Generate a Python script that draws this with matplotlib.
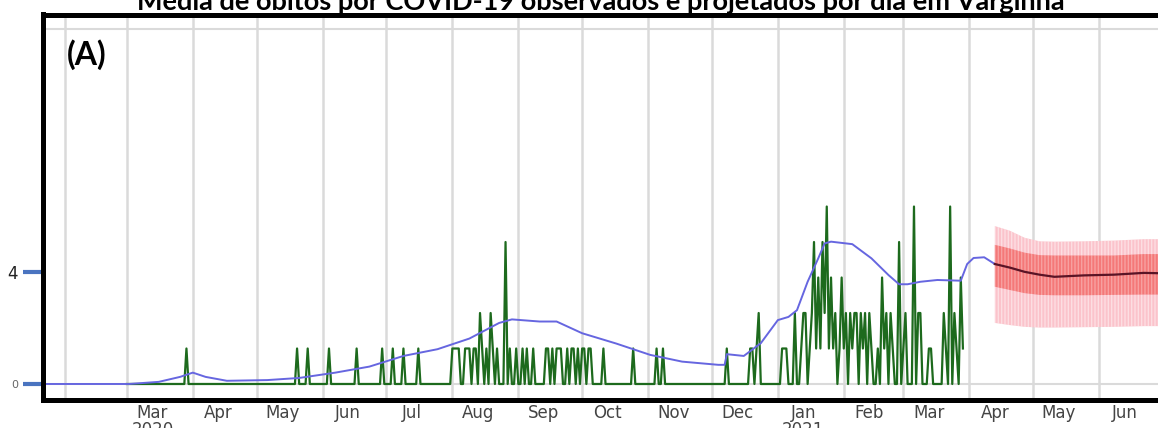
"""Observed and projected daily COVID-19 deaths in Varginha (panel A)."""
import matplotlib
matplotlib.use('Agg')
import matplotlib.pyplot as plt
import matplotlib.dates as mdates
import numpy as np
import pandas as pd

# === OBSERVED DAILY DEATHS (non-zero days only, rest are 0) ===
obs_start, obs_end = '2020-03-01', '2021-03-29'
death_dates = [
    '2020-03-29', '2020-05-20', '2020-05-25', '2020-06-04', '2020-06-17', '2020-06-29',
    '2020-07-04', '2020-07-09', '2020-07-16',
    '2020-08-01', '2020-08-02', '2020-08-03', '2020-08-04', '2020-08-07', '2020-08-08',
    '2020-08-09', '2020-08-11', '2020-08-12', '2020-08-14', '2020-08-15', '2020-08-17',
    '2020-08-19', '2020-08-20', '2020-08-22', '2020-08-26', '2020-08-28', '2020-08-31',
    '2020-09-03', '2020-09-05', '2020-09-08', '2020-09-14', '2020-09-15', '2020-09-17',
    '2020-09-19', '2020-09-20', '2020-09-21', '2020-09-24', '2020-09-26', '2020-09-27',
    '2020-09-29', '2020-10-01', '2020-10-02', '2020-10-04', '2020-10-05', '2020-10-11',
    '2020-10-25', '2020-11-05', '2020-11-08',
    '2020-12-08', '2020-12-19', '2020-12-20', '2020-12-22', '2020-12-23',
    '2021-01-03', '2021-01-04', '2021-01-05', '2021-01-09', '2021-01-12', '2021-01-13',
    '2021-01-14', '2021-01-16', '2021-01-17', '2021-01-18', '2021-01-19', '2021-01-20',
    '2021-01-21', '2021-01-22', '2021-01-23', '2021-01-24', '2021-01-25', '2021-01-26',
    '2021-01-27', '2021-01-28', '2021-01-30', '2021-01-31',
    '2021-02-01', '2021-02-02', '2021-02-04', '2021-02-05', '2021-02-06', '2021-02-07',
    '2021-02-09', '2021-02-10', '2021-02-11', '2021-02-13', '2021-02-14', '2021-02-17',
    '2021-02-19', '2021-02-20', '2021-02-21', '2021-02-23', '2021-02-24', '2021-02-27',
    '2021-03-01', '2021-03-02', '2021-03-06', '2021-03-08', '2021-03-09', '2021-03-13',
    '2021-03-14', '2021-03-20', '2021-03-21', '2021-03-23', '2021-03-25', '2021-03-26',
    '2021-03-28', '2021-03-29',
]
death_counts = [
    1, 1, 1, 1, 1, 1,
    1, 1, 1,
    1, 1, 1, 1, 1, 1,
    1, 1, 1, 2, 1, 1,
    2, 1, 1, 4, 1, 1,
    1, 1, 1, 1, 1, 1,
    1, 1, 1, 1, 1, 1,
    1, 1, 1, 1, 1, 1,
    1, 1, 1,
    1, 1, 1, 1, 2,
    1, 1, 1, 2, 1, 2,
    2, 1, 2, 4, 1, 3,
    1, 4, 2, 5, 1, 3,
    1, 2, 1, 3,
    1, 2, 2, 1, 2, 2,
    2, 1, 2, 2, 1, 1,
    3, 1, 2, 2, 1, 4,
    1, 2, 5, 2, 2, 1,
    1, 2, 1, 5, 2, 1,
    3, 1,
]

# === SMOOTHED AVERAGE (blue) ===
avg_dates = [
    '2020-01-22', '2020-03-02', '2020-03-16', '2020-03-26', '2020-04-01', '2020-04-07',
    '2020-04-17', '2020-05-06', '2020-05-21', '2020-06-07', '2020-06-23', '2020-07-09',
    '2020-07-25', '2020-08-09', '2020-08-23', '2020-08-29', '2020-09-11', '2020-09-19',
    '2020-10-01', '2020-10-17', '2020-11-02', '2020-11-17', '2020-12-04', '2020-12-07',
    '2020-12-08', '2020-12-16', '2020-12-24', '2021-01-01', '2021-01-06', '2021-01-10',
    '2021-01-15', '2021-01-20', '2021-01-23', '2021-01-26', '2021-02-05', '2021-02-14',
    '2021-02-22', '2021-02-27', '2021-03-03', '2021-03-09', '2021-03-17', '2021-03-28',
    '2021-03-31', '2021-04-03', '2021-04-08', '2021-04-13',
]
avg_vals = [
    0.00, 0.00, 0.06, 0.20, 0.32, 0.20,
    0.09, 0.11, 0.17, 0.32, 0.49, 0.79,
    0.98, 1.28, 1.72, 1.82, 1.76, 1.76,
    1.43, 1.14, 0.82, 0.63, 0.54, 0.54,
    0.84, 0.79, 1.15, 1.80, 1.89, 2.08,
    2.88, 3.54, 3.96, 4.01, 3.94, 3.54,
    3.07, 2.81, 2.81, 2.88, 2.93, 2.91,
    3.38, 3.55, 3.57, 3.38,
]

# === PROJECTION ===
proj_dates = ['2021-04-13', '2021-04-20', '2021-04-27', '2021-05-04', '2021-05-11',
              '2021-05-25', '2021-06-08', '2021-06-22', '2021-06-30']
proj_mean = [3.38, 3.28, 3.16, 3.08, 3.02, 3.06, 3.08, 3.13, 3.12]
proj_hi80 = [3.92, 3.82, 3.70, 3.63, 3.62, 3.62, 3.62, 3.66, 3.66]
proj_lo80 = [2.74, 2.65, 2.56, 2.51, 2.50, 2.50, 2.51, 2.52, 2.52]
proj_hi95 = [4.45, 4.32, 4.12, 4.02, 4.01, 4.02, 4.04, 4.08, 4.08]
proj_lo95 = [1.72, 1.66, 1.61, 1.59, 1.59, 1.60, 1.61, 1.63, 1.63]

ytick_vals = [0, 3.155]
ytick_labels = ['0', '4']

title = 'Média de óbitos por COVID-19 observados e projetados por dia em Varginha'

# === BUILD SERIES ===
daily = pd.Series(0, index=pd.date_range(obs_start, obs_end, freq='D'))
daily.loc[pd.to_datetime(death_dates)] = death_counts
avg_x = pd.to_datetime(avg_dates)
proj_x = pd.to_datetime(proj_dates)

# === CHART ===
W, H = 1158, 428
fig = plt.figure(figsize=(W / 100, H / 100), dpi=100, facecolor='white')
ax = fig.add_axes([42.5 / W, (H - 399.5) / H, (W - 42.5) / W, (399.5 - 14.5) / H])

ax.fill_between(proj_x, proj_lo95, proj_hi95, color='#fbc3cb', linewidth=0,
                hatch='|||||', edgecolor=(1, 1, 1, 0.45), zorder=2)
ax.fill_between(proj_x, proj_lo80, proj_hi80, color='#f47878', linewidth=0,
                hatch='|||||', edgecolor=(1, 1, 1, 0.3), zorder=3)
ax.plot(proj_x, proj_mean, color='#5a1426', linewidth=1.6, zorder=5)

ax.plot(daily.index, daily.values, color='#1d6a1d', linewidth=1.6, zorder=3)
ax.plot(avg_x, avg_vals, color='#6666e0', linewidth=1.4, zorder=4)

ax.set_xlim(pd.Timestamp('2020-01-21 08:00'), pd.Timestamp('2021-06-28 17:00'))
ax.set_ylim(-0.437, 10.41)

# month gridlines, labels mid-month
ax.xaxis.set_major_locator(mdates.MonthLocator())
ax.xaxis.set_major_formatter(plt.NullFormatter())
ax.xaxis.set_minor_locator(mdates.MonthLocator(bymonthday=13))


def month_label(x, pos):
    d = mdates.num2date(x)
    if d.month == 2 and d.year == 2020:
        return ''
    lab = d.strftime('%b')
    if (d.year == 2020 and d.month == 3) or (d.year == 2021 and d.month == 1):
        lab += '\n' + str(d.year)
    return lab


ax.xaxis.set_minor_formatter(plt.FuncFormatter(month_label))
ax.tick_params(axis='x', which='both', length=0)
ax.tick_params(axis='x', which='minor', pad=3, labelsize=12, labelcolor='#444444')
for lab in ax.get_xticklabels(minor=True):
    lab.set_linespacing(0.95)
ax.grid(True, axis='x', which='major', color='#dadada', linewidth=1.8, zorder=0)
ax.axhline(0, color='#dadada', linewidth=1.5, zorder=1)
ax.axhline(10, color='#dadada', linewidth=1.5, zorder=1)

ax.set_yticks(ytick_vals, ytick_labels)
ax.tick_params(axis='y', length=14.5, width=3, color='#4a74c0', pad=3)
small, big = ax.get_yticklabels()
small.set_fontsize(8)
small.set_color('#666666')
big.set_fontsize(12)
big.set_color('#222222')

ax.set_axisbelow(True)
for side in ['left', 'top', 'bottom']:
    ax.spines[side].set_linewidth(3.6)
    ax.spines[side].set_color('black')
    ax.spines[side].set_zorder(10)
ax.spines['right'].set_visible(False)

ax.text(24 / (W - 42.5), 0.895, '(A)', transform=ax.transAxes, fontsize=23,
        fontweight='bold', family=['Lato', 'DejaVu Sans'], va='center', ha='left')
fig.text(601 / W, 1 - 10 / H, title, fontsize=19.5, fontweight='bold',
         family=['Lato', 'DejaVu Sans'], ha='center', va='baseline')

fig.savefig('out.png', dpi=100, facecolor='white')
